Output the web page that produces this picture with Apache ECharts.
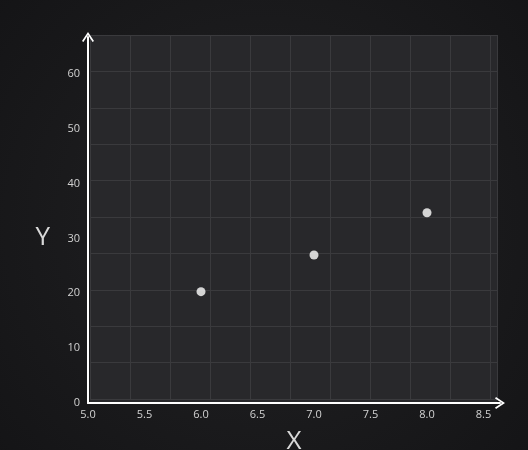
<!DOCTYPE html>
<html><head><meta charset="utf-8">
<script src="https://cdn.jsdelivr.net/npm/echarts@6/dist/echarts.min.js"></script>
<style>html,body{margin:0;padding:0;background:#1c1c1e}#c{width:528px;height:450px}</style>
</head><body><div id="c"></div>
<script>
const xValues = [6.0, 7.0, 8.0];
const yValues = [20.3, 27.0, 34.7];
const xTicks = [5.0, 5.5, 6.0, 6.5, 7.0, 7.5, 8.0, 8.5];
const yTicks = [0, 10, 20, 30, 40, 50, 60];

const chart = echarts.init(document.getElementById('c'));
const chevron = 'path://M0,9 L6,0 L12,9 L10.6,10 L6,3 L1.4,10 Z';
const labelFont = {color:'#d2d2d2', fontSize:11, fontFamily:'Open Sans'};
const gridLine = {show:true, lineStyle:{color:'#3a3a3d', width:1}};
const hidden = {axisLine:{show:false}, axisTick:{show:false}, axisLabel:{show:false}};
chart.setOption({
  backgroundColor: {type:'radial', x:0.5, y:0.5, r:0.8, colorStops:[{offset:0,color:'#222224'},{offset:1,color:'#141416'}]},
  animation:false,
  grid:[
    {left:90, right:31, top:35, bottom:47, show:true, backgroundColor:'#28282b', borderWidth:0, outerBoundsMode:'none', containLabel:false},
    {left:90, right:31, top:35, bottom:51, outerBoundsMode:'none', containLabel:false},
    {left:88, right:28, top:37, bottom:47, outerBoundsMode:'none', containLabel:false}
  ],
  xAxis:[
    Object.assign({gridIndex:0, type:'value', min:0, max:1, splitLine:{show:false}}, hidden),
    Object.assign({gridIndex:1, type:'value', min:0, max:10.175, interval:1, splitLine:gridLine}, hidden),
    {gridIndex:2, type:'value', min:5, max:8.646, interval:0.5,
     axisLine:{show:true, onZero:false, symbol:['none', chevron], symbolSize:[12,10], lineStyle:{color:'#ffffff', width:2}},
     axisTick:{show:false}, splitLine:{show:false},
     axisLabel:Object.assign({margin:6, formatter:v=>xTicks.some(t=>Math.abs(t-v)<1e-6)?v.toFixed(1):''}, labelFont),
     name:'X', nameLocation:'middle', nameGap:26, nameTextStyle:{color:'#d8d8d8', fontSize:26, fontFamily:'Open Sans'}}
  ],
  yAxis:[
    Object.assign({gridIndex:0, type:'value', min:0, max:1, splitLine:{show:false}}, hidden),
    Object.assign({gridIndex:1, type:'value', min:0, max:10, interval:1, splitLine:gridLine}, hidden),
    {gridIndex:2, type:'value', min:0, max:66.75, interval:10,
     axisLine:{show:true, onZero:false, symbol:['none', chevron], symbolSize:[12,10], lineStyle:{color:'#ffffff', width:2}},
     axisTick:{show:false}, splitLine:{show:false},
     axisLabel:Object.assign({margin:8, formatter:v=>yTicks.includes(v)?String(v):''}, labelFont),
     name:'\nY', nameLocation:'middle', nameGap:38, nameRotate:0, nameTextStyle:{color:'#d8d8d8', fontSize:26, lineHeight:36, fontFamily:'Open Sans'}}
  ],
  series:[{
    type:'scatter', xAxisIndex:2, yAxisIndex:2,
    data:xValues.map((x,i)=>[x, yValues[i]]),
    symbolSize:9, itemStyle:{color:'#ffffff'}
  }]
});
</script></body></html>
